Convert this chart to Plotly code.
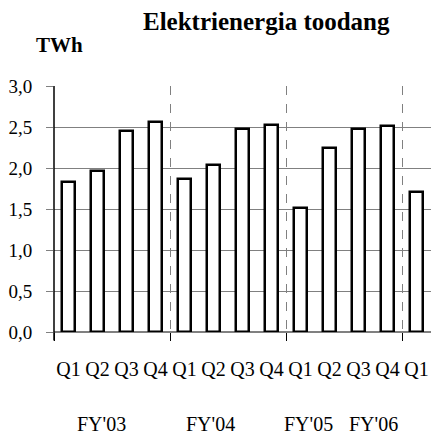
import plotly.graph_objects as go

quarters = ["Q1", "Q2", "Q3", "Q4", "Q1", "Q2", "Q3", "Q4", "Q1", "Q2", "Q3", "Q4", "Q1"]
values = [1.83, 1.965, 2.45, 2.56, 1.86, 2.04, 2.48, 2.52, 1.51, 2.25, 2.48, 2.51, 1.705]
group_sizes = [4, 4, 4, 1]
fy_labels = ["FY'03", "FY'04", "FY'05", "FY'06"]
fy_positions = [1.15, 4.88, 8.29, 10.5]
y_ticks = [0.0, 0.5, 1.0, 1.5, 2.0, 2.5, 3.0]
y_ticktext = [f"{v:.1f}".replace(".", ",") for v in y_ticks]

xs = list(range(len(values)))
bounds = [-0.5]
acc = -0.5
for g in group_sizes[:-1]:
    acc += g
    bounds.append(acc)

FONT = "Liberation Serif"

fig = go.Figure()
fig.add_trace(go.Bar(
    x=xs, y=values, width=0.42,
    marker=dict(color="white", line=dict(color="black", width=2.5)),
    showlegend=False, hoverinfo="skip",
))

fig.update_layout(
    width=431, height=434,
    margin=dict(l=54, r=0, t=86, b=102),
    paper_bgcolor="white", plot_bgcolor="white",
    font=dict(family=FONT, size=18, color="black"),
    bargap=0,
    xaxis=dict(
        range=[-0.5, len(values) - 0.5],
        tickmode="array", tickvals=xs, ticktext=quarters,
        ticks="", showgrid=False, zeroline=False,
        showline=False,
        ticklabelstandoff=23,
        tickfont=dict(family=FONT, size=20),
        minor=dict(
            tickmode="array", tickvals=bounds,
            ticks="outside", ticklen=8, tickcolor="black", tickwidth=1,
            showgrid=True, gridcolor="#808080", griddash="dash", gridwidth=1,
        ),
    ),
    yaxis=dict(
        range=[0, 3.0],
        tickmode="array", tickvals=y_ticks, ticktext=y_ticktext,
        ticks="outside", ticklen=7, tickcolor="#808080",
        showgrid=True, gridcolor="#808080", gridwidth=1,
        zeroline=True, zerolinecolor="#808080", zerolinewidth=1.5,
        showline=False,
        ticklabelstandoff=10,
        tickfont=dict(family=FONT, size=19),
    ),
    shapes=[dict(type="line", xref="paper", yref="paper", x0=0, x1=0, y0=-0.035, y1=1,
                 line=dict(color="black", width=1.5))],
)

annotations = [
    dict(text="<b>Elektrienergia toodang</b>", xref="paper", yref="paper",
         x=(266 - 54) / 377, y=1 + (86 - 21) / 246, xanchor="center", yanchor="middle",
         showarrow=False, font=dict(family=FONT, size=25)),
    dict(text="<b>TWh</b>", xref="paper", yref="paper",
         x=(59 - 54) / 377, y=1 + (86 - 45) / 246, xanchor="center", yanchor="middle",
         showarrow=False, font=dict(family=FONT, size=21)),
]
for lab, pos in zip(fy_labels, fy_positions):
    annotations.append(dict(text=lab, x=pos, xref="x", yref="paper",
                            y=-(424 - 332) / 246, xanchor="center", yanchor="middle",
                            showarrow=False, font=dict(family=FONT, size=20)))
fig.update_layout(annotations=annotations)

fig.write_html("out.html")
